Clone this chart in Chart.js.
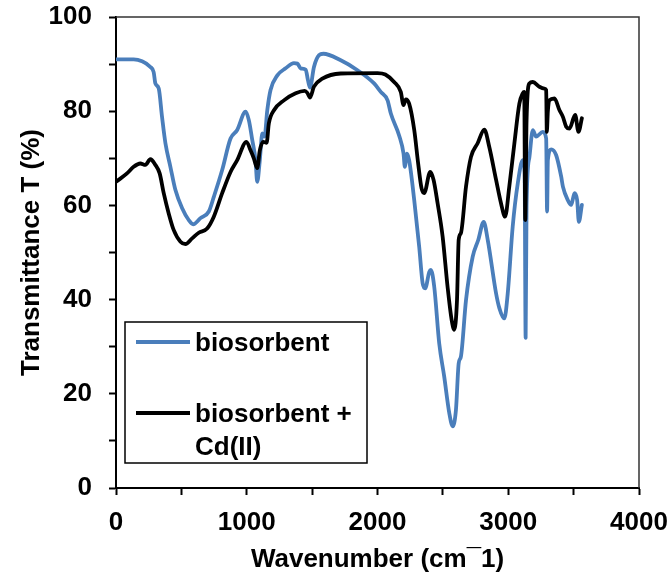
<!DOCTYPE html>
<html><head><meta charset="utf-8">
<script src="https://cdn.jsdelivr.net/npm/chart.js@4.4.1/dist/chart.umd.min.js"></script>
<style>html,body{margin:0;padding:0;background:#fff;}canvas{display:block;}</style>
</head><body>
<canvas id="c" width="670" height="583"></canvas>
<script>
const seriesNames = ['biosorbent', 'biosorbent + Cd(II)'];

const bioWavenumber = [0,135,199,263,288,301,327,352,378,416,454,506,556,590,646,710,748,812,876,927,991,1016,1042,1067,1080,1100,1119,1136,1157,1182,1234,1297,1361,1387,1412,1451,1468,1484,1514,1553,1586,1719,1847,1974,2025,2077,2102,2166,2199,2209,2225,2242,2281,2319,2345,2365,2396,2408,2434,2472,2510,2549,2575,2600,2621,2638,2677,2728,2771,2812,2843,2907,2932,2970,2996,3034,3073,3111,3125,3133,3140,3162,3188,3213,3264,3290,3297,3303,3328,3366,3405,3418,3456,3481,3507,3527,3540,3563];
const bioTransmittance = [91.0,91.0,90.6,89.4,88.3,85.9,84.8,78.8,73.2,68.2,63.3,59.4,56.9,56.0,57.3,58.7,61.8,67.5,74.2,76.0,79.9,78.1,73.9,69.6,65.0,69.6,75.3,74.6,80.2,84.5,87.6,89.1,90.2,90.1,89.1,88.8,86.6,85.0,89.4,91.9,92.2,90.8,88.7,85.9,84.1,82.3,79.5,74.8,71.0,68.2,71.0,69.6,61.1,51.2,43.5,42.4,45.9,46.3,42.7,30.7,23.7,15.9,13.1,16.6,26.5,27.9,39.9,49.1,52.7,56.5,52.7,41.3,38.2,36.0,41.3,55.5,64.7,69.6,67.0,31.9,60.0,70.3,76.0,74.6,75.6,74.2,58.7,69.6,71.9,70.7,66.1,64.0,61.1,60.1,62.6,61.1,56.5,60.1];

const cdWavenumber = [0,84,135,186,225,263,301,334,365,403,441,493,531,582,633,697,748,812,876,927,998,1029,1054,1080,1100,1126,1152,1169,1208,1284,1374,1443,1463,1484,1514,1578,1719,2000,2060,2127,2178,2199,2217,2242,2281,2311,2337,2357,2403,2429,2460,2498,2536,2567,2587,2608,2621,2638,2677,2715,2766,2817,2855,2907,2945,2976,3008,3047,3085,3111,3122,3130,3140,3162,3188,3238,3277,3290,3295,3303,3315,3353,3392,3418,3443,3468,3512,3537,3563];
const cdTransmittance = [65.0,66.8,68.2,68.9,68.6,69.8,68.6,66.8,62.6,58.3,54.8,52.3,51.8,53.0,54.2,55.1,57.6,62.6,67.1,69.6,73.5,71.7,70.0,67.9,71.7,73.5,73.3,77.4,80.2,82.3,83.8,84.3,83.9,82.9,85.2,86.9,88.0,88.1,87.8,86.2,84.1,81.3,82.5,81.6,76.0,68.9,63.6,62.6,67.1,65.4,60.4,53.4,42.7,35.7,33.6,39.9,52.7,54.1,64.0,70.3,73.2,76.1,72.4,65.4,60.4,57.6,64.0,73.2,81.6,83.8,84.1,56.9,78.0,85.9,86.2,85.2,84.8,84.5,75.6,80.0,82.3,82.7,80.2,78.8,76.7,76.3,79.2,75.6,78.5];

const xTickLabels = [0, 1000, 2000, 3000, 4000];
const yTickLabels = [0, 20, 40, 60, 80, 100];

const FONT = "'Liberation Sans', Arial, sans-serif";
const BLUE = '#4a7ebb';

const toPoints = (xs, ys) => xs.map((x, i) => ({x, y: ys[i]}));

const framePlugin = {
  id: 'frame',
  beforeDatasetsDraw(chart) {
    const {ctx, chartArea: a} = chart;
    ctx.save();
    ctx.strokeStyle = '#333';
    ctx.lineWidth = 1.5;
    ctx.beginPath();
    ctx.moveTo(a.left, a.top);
    ctx.lineTo(a.right, a.top);
    ctx.lineTo(a.right, a.bottom);
    ctx.stroke();
    ctx.restore();
  }
};

const boxLegend = {
  id: 'boxLegend',
  afterDraw(chart, args, o) {
    const {ctx, chartArea: a} = chart;
    const left = a.left + o.dx, top = a.top + o.dy;
    ctx.save();
    ctx.fillStyle = '#fff';
    ctx.fillRect(left, top, o.w, o.h);
    ctx.strokeStyle = '#000';
    ctx.lineWidth = 1.5;
    ctx.strokeRect(left, top, o.w, o.h);
    ctx.font = 'bold 26px ' + FONT;
    ctx.textBaseline = 'alphabetic';
    ctx.textAlign = 'left';
    const order = [0, 1];
    let y = top + o.firstY;
    order.forEach((di) => {
      const ds = chart.data.datasets[di];
      const words = ds.label.split(' ');
      const lines = [];
      let cur = '';
      words.forEach(w => {
        const t = cur ? cur + ' ' + w : w;
        if (ctx.measureText(t).width > o.maxText && cur) { lines.push(cur); cur = w; }
        else cur = t;
      });
      if (cur) lines.push(cur);
      ctx.strokeStyle = ds.borderColor;
      ctx.lineWidth = ds.borderWidth;
      ctx.beginPath();
      ctx.moveTo(left + o.lineX0, y);
      ctx.lineTo(left + o.lineX1, y);
      ctx.stroke();
      ctx.fillStyle = '#000';
      lines.forEach((ln, j) => {
        ctx.fillText(ln, left + o.textX, y + o.baseOff + j * o.lineGap);
      });
      y += o.entryGap;
    });
    ctx.restore();
  }
};

new Chart(document.getElementById('c'), {
  type: 'line',
  data: {
    datasets: [
      { label: seriesNames[0], data: toPoints(bioWavenumber, bioTransmittance),
        borderColor: BLUE, borderWidth: 3.8, pointRadius: 0, order: 1,
        cubicInterpolationMode: 'monotone', borderJoinStyle: 'round', borderCapStyle: 'round', fill: false },
      { label: seriesNames[1], data: toPoints(cdWavenumber, cdTransmittance),
        borderColor: '#000', borderWidth: 3.8, pointRadius: 0, order: 0,
        cubicInterpolationMode: 'monotone', borderJoinStyle: 'round', borderCapStyle: 'round', fill: false }
    ]
  },
  options: {
    responsive: false,
    animation: false,
    devicePixelRatio: 1,
    layout: { padding: { left: 10, top: 17, right: 31, bottom: 0 } },
    plugins: {
      legend: { display: false },
      tooltip: { enabled: false },
      boxLegend: { dx: 9, dy: 305, w: 242, h: 141, firstY: 20, entryGap: 71,
                   lineX0: 11, lineX1: 65, textX: 70, baseOff: 9, lineGap: 33, maxText: 165 }
    },
    scales: {
      x: {
        type: 'linear', min: 0, max: 4000,
        afterFit: s => { s.height = 95; s.paddingLeft = 0; s.paddingRight = 0; },
        ticks: { stepSize: 500, autoSkip: false, maxRotation: 0, padding: 12, color: '#000',
                 font: { family: FONT, size: 26, weight: 'bold' },
                 callback: v => xTickLabels.includes(v) ? String(v) : '' },
        grid: { display: true, drawOnChartArea: false, drawTicks: true, tickLength: 7, tickColor: '#000', tickWidth: 2 },
        border: { display: true, color: '#000', width: 2 },
        title: { display: true, text: 'Wavenumber (cm\u00AF1)', color: '#000',
                 font: { family: FONT, size: 26, weight: 'bold' }, padding: { top: 0, bottom: 8 } }
      },
      y: {
        type: 'linear', min: 0, max: 100,
        afterFit: s => { s.width = 106; s.paddingTop = 0; s.paddingBottom = 0; },
        ticks: { stepSize: 10, autoSkip: false, padding: 17, color: '#000',
                 font: { family: FONT, size: 26, weight: 'bold' },
                 callback: v => yTickLabels.includes(v) ? String(v) : '' },
        grid: { display: true, drawOnChartArea: false, drawTicks: true, tickLength: 7, tickColor: '#000', tickWidth: 2 },
        border: { display: true, color: '#000', width: 2 },
        title: { display: true, text: 'Transmittance T (%)', color: '#000',
                 font: { family: FONT, size: 26, weight: 'bold' }, padding: { top: 6, bottom: 0 } }
      }
    }
  },
  plugins: [framePlugin, boxLegend]
});
</script>
</body></html>
